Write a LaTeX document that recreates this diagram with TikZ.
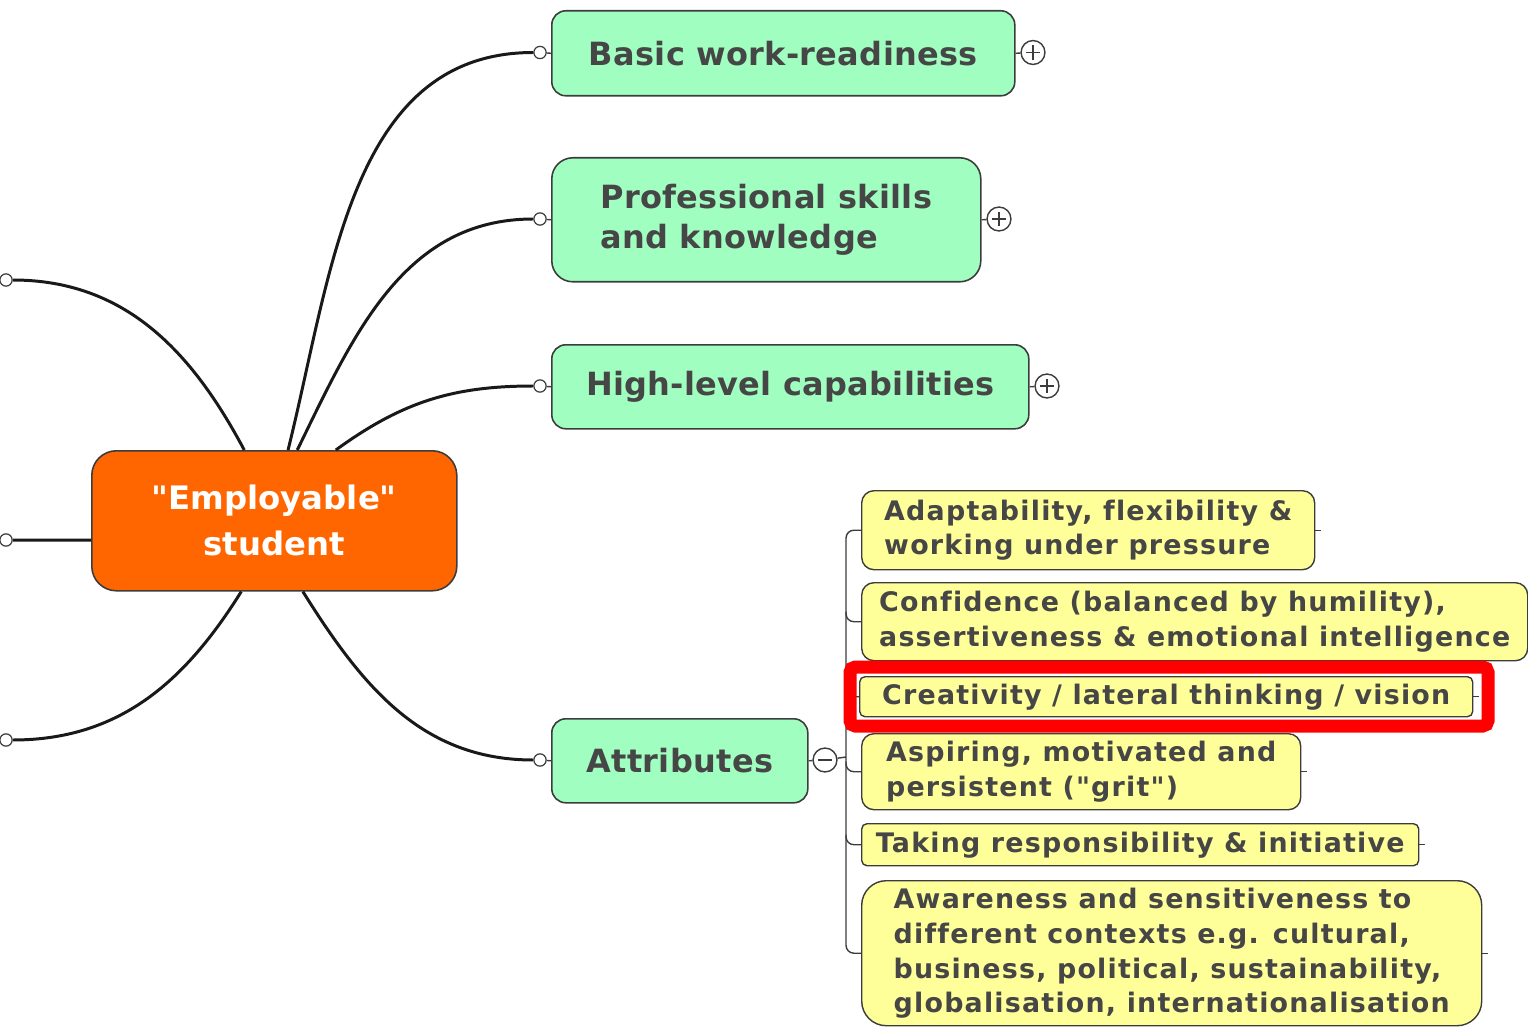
\documentclass[tikz,border=0pt]{standalone}
\usepackage{fontspec}
\setmainfont{DejaVu Sans}[Ligatures={TeXOff,NoCommon}]
\newfontfamily\ideafont{DejaVu Sans}[Ligatures={TeXOff,NoCommon}, LetterSpace=4.5]
\newfontfamily\topicfont{DejaVu Sans}[Ligatures={TeXOff,NoCommon}, LetterSpace=1]

\definecolor{mintgreen}{RGB}{160,255,192}
\definecolor{paleyellow}{RGB}{255,255,153}
\definecolor{mmorange}{RGB}{255,102,0}
\definecolor{textgray}{RGB}{70,70,70}
\definecolor{edgegray}{RGB}{60,60,60}

\tikzset{
    central/.style={draw=edgegray, line width=0.9pt, fill=mmorange, rounded corners=14pt,
        anchor=north west, inner sep=0pt, align=center, text=white,
        font=\bfseries\fontsize{18.4}{26.2}\selectfont},
    topic/.style={draw=edgegray, line width=0.9pt, fill=mintgreen, rounded corners=8pt,
        anchor=north west, inner sep=0pt, align=left, text=textgray,
        font=\topicfont\bfseries\fontsize{18.2}{23.3}\selectfont},
    idea/.style={draw=edgegray, line width=0.8pt, fill=paleyellow, rounded corners=7pt,
        anchor=north west, inner sep=0pt, align=left, text=textgray,
        font=\ideafont\bfseries\fontsize{15.3}{19.9}\selectfont},
    branch/.style={line width=1.7pt, black!90},
    twig/.style={line width=0.8pt, edgegray},
    port/.style={circle, draw=edgegray, fill=white, line width=0.7pt, minimum size=7pt, inner sep=0pt},
    expander/.style={circle, draw=edgegray, fill=white, line width=0.8pt, minimum size=13.6pt, inner sep=0pt},
    plusnode/.style={expander, path picture={
        \draw[line width=0.8pt] ([xshift=-4pt]path picture bounding box.center) -- ([xshift=4pt]path picture bounding box.center);
        \draw[line width=0.8pt] ([yshift=-4pt]path picture bounding box.center) -- ([yshift=4pt]path picture bounding box.center);}},
    minusnode/.style={expander, path picture={
        \draw[line width=0.8pt] ([xshift=-4pt]path picture bounding box.center) -- ([xshift=4pt]path picture bounding box.center);}},
}

\begin{document}
\begin{tikzpicture}[x=0.02cm, y=-0.02cm]
        \def\px{0.02cm}
        \useasboundingbox (0,0) rectangle (1528,1027);

        % central topic
        \node[central, minimum width=365*\px, minimum height=140*\px] (emp) at (91,450) {"Employable"\\student};

        % main branches
        \node[topic, minimum width=463*\px, minimum height=85*\px] (basic) at (551,10) {Basic work-readiness};
        \node[topic, minimum width=429*\px, minimum height=124*\px, rounded corners=12pt] (prof) at (551,157) {Professional skills\\and knowledge\hspace*{8pt}};
        \node[topic, minimum width=477*\px, minimum height=84*\px] (high) at (551,344) {High-level capabilities};
        \node[topic, minimum width=256*\px, minimum height=84*\px] (attr) at (551,718) {Attributes};

        \node[port] (bport) at (540,52.5) {};
        \node[port] (pport) at (540,219) {};
        \node[port] (hport) at (540,386) {};
        \node[port] (aport) at (540,760) {};
        \node[port] (lport1) at (6,280) {};
        \node[port] (lport2) at (6,540) {};
        \node[port] (lport3) at (6,740) {};

        \node[plusnode] (basicplus) at (1033,52.5) {};
        \node[plusnode] (profplus) at (999,219) {};
        \node[plusnode] (highplus) at (1047,386) {};
        \node[minusnode] (attrminus) at (825,760) {};

        % sub-topics of Attributes
        \node[idea, minimum width=453*\px, minimum height=79*\px] (adapt) at (861,490) {Adaptability, flexibility \&\\working under pressure};
        \node[idea, minimum width=666*\px, minimum height=78*\px] (conf) at (861,582) {Confidence (balanced by humility),\\assertiveness \& emotional intelligence};
        \node[idea, minimum width=613*\px, minimum height=40*\px, rounded corners=3pt] (creat) at (859,676) {Creativity / lateral thinking / vision};
        \node[idea, minimum width=439*\px, minimum height=76*\px] (aspir) at (861,733) {Aspiring, motivated and\\persistent ("grit")};
        \node[idea, minimum width=557*\px, minimum height=42*\px, rounded corners=3pt] (taking) at (861,823) {Taking responsibility \& initiative};
        \node[idea, minimum width=620*\px, minimum height=145*\px, rounded corners=14pt] (aware) at (861,880) {Awareness and sensitiveness to\\different contexts e.g. cultural,\\business, political, sustainability,\\globalisation, internationalisation};

        % connectors
        \draw[branch] (emp.79) to[out=76, in=180] (bport);
        \draw[branch] (emp.72) to[out=64, in=180] (pport);
        \draw[branch] (emp.49) to[out=36, in=180] (hport);
        \draw[branch] (emp.-68) to[out=-58, in=180] (aport);
        \draw[branch] (emp.113) to[out=118, in=0] (lport1);
        \draw[branch] (emp.186) -- (lport2);
        \draw[branch] (emp.245) to[out=238, in=0] (lport3);

        \foreach \a/\b in {bport/basic, pport/prof, hport/high, aport/attr}
            \draw[twig] (\a) -- (\b.west);
        \foreach \a/\b in {basic/basicplus, prof/profplus, high/highplus, attr/attrminus}
            \draw[twig] (\a.east) -- (\b);

        % bracket
        \coordinate (spine) at (846,757);
        \draw[twig] (attrminus) -- (spine);
        \draw[twig, rounded corners=4.5pt] (adapt.west) -| (aware.west -| spine) -- (aware.west);
        \foreach \b in {conf, creat, aspir, taking}
            \draw[twig, rounded corners=4.5pt] (\b.west -| spine) ++(0,-10) |- (\b.west);
        \foreach \b in {adapt, creat, aspir, taking, aware}
            \draw[twig] (\b.east) -- ++(6,0);

        % highlight
        \draw[red, line width=7.4pt, rounded corners=3pt] (850,667) rectangle (1488,726);
    \end{tikzpicture}
\end{document}
